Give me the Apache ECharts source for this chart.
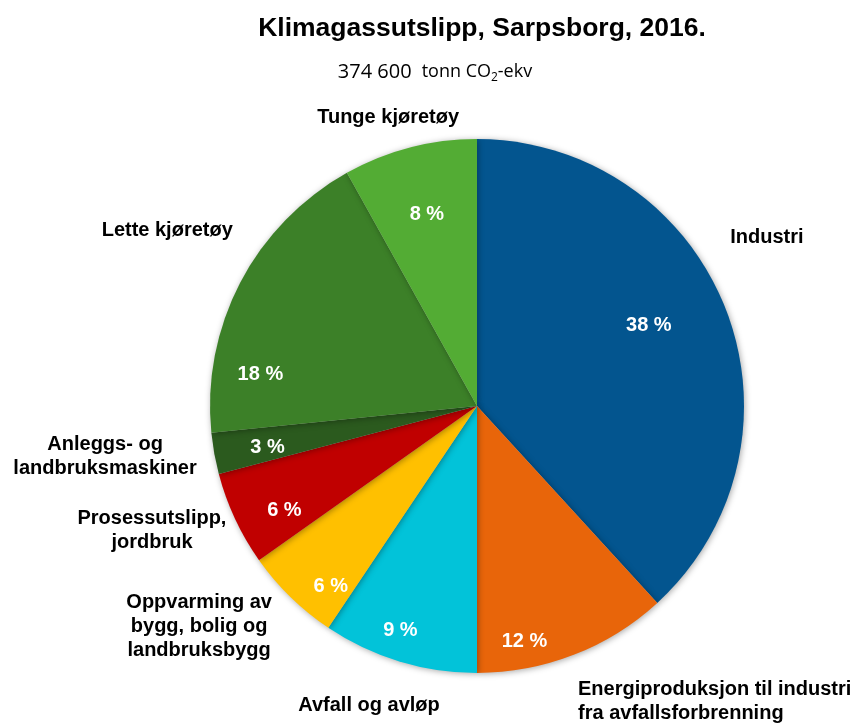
<!DOCTYPE html>
<html>
<head>
<meta charset="utf-8">
<script src="https://cdn.jsdelivr.net/npm/echarts@6/dist/echarts.min.js"></script>
<style>
  html, body { margin: 0; padding: 0; background: #fff; }
  #chart { width: 864px; height: 724px; }
</style>
</head>
<body>
<div id="chart"></div>
<script>
// sektorer, med klokka fra toppen
const categories = [
  'Industri',
  'Energiproduksjon til industri\nfra avfallsforbrenning',
  'Avfall og avløp',
  'Oppvarming av\nbygg, bolig og\nlandbruksbygg',
  'Prosessutslipp,\njordbruk',
  'Anleggs- og\nlandbruksmaskiner',
  'Lette kjøretøy',
  'Tunge kjøretøy'
]
const shares = [38.2, 11.8, 9.4, 5.8, 5.7, 2.5, 18.5, 8.1] // prosent
const shareLabels = ['38 %', '12 %', '9 %', '6 %', '6 %', '3 %', '18 %', '8 %']
const colors = ['#03558f', '#e8650a', '#02c3d9', '#ffc000', '#c00000', '#2b5a1e', '#3c8028', '#53ac34']

// etikettplassering: [vinkel fra toppen (grader), andel av radius]
const innerPos = [[65, 0.71], [168.6, 0.9], [198.8, 0.89], [219, 0.87], [241.6, 0.82], [258.7, 0.8], [278.4, 0.82], [345.3, 0.74]]
const outerPos = [[59.9, 1.255], [161.1, 1.168], [199.8, 1.194], [231.6, 1.328], [249, 1.304], [262.2, 1.406], [299.5, 1.333], [342.9, 1.132]]
const outerAlign = ['center', 'left', 'center', 'center', 'center', 'center', 'center', 'center']

const cx = 477, cy = 406, r = 267
const font = '"Liberation Sans", Arial, sans-serif'
const subFont = '"Open Sans", sans-serif'

function polar (p) {
  let a = p[0] * Math.PI / 180
  return { x: cx + p[1] * r * Math.sin(a), y: cy - p[1] * r * Math.cos(a) }
}

let data = categories.map((name, i) => ({
  name: name,
  value: shares[i],
  itemStyle: { color: colors[i] }
}))

let chart = echarts.init(document.getElementById('chart'))
chart.setOption({
  animation: false,
  title: [{
    text: 'Klimagassutslipp, Sarpsborg, 2016.',
    left: 477, top: 10, textAlign: 'center',
    textStyle: { fontFamily: font, fontWeight: 'bold', fontSize: 26.5, color: '#000' }
  }, {
    text: '{a|374 600}  {b|tonn CO}{s|2}{b|-ekv}',
    left: 430, top: 55, textAlign: 'center',
    textStyle: {
      fontWeight: 'normal',
      rich: {
        a: { fontFamily: subFont, fontWeight: 'normal', fontSize: 20, color: '#000' },
        b: { fontFamily: subFont, fontWeight: 'normal', fontSize: 18, color: '#000' },
        s: { fontFamily: subFont, fontWeight: 'normal', fontSize: 12, color: '#000', padding: [12, 0, 0, 0] }
      }
    }
  }],
  series: [{
    type: 'pie',
    center: [cx, cy],
    radius: r,
    startAngle: 90,
    clockwise: true,
    silent: true,
    data: data,
    itemStyle: { shadowBlur: 6, shadowColor: 'rgba(0,0,0,0.35)', shadowOffsetX: 1, shadowOffsetY: 1 },
    label: {
      show: true,
      position: 'inside',
      formatter: p => shareLabels[p.dataIndex],
      fontFamily: font, fontWeight: 'bold', fontSize: 20, color: '#fff'
    },
    labelLine: { show: false },
    labelLayout: p => {
      let pt = polar(innerPos[p.dataIndex])
      return { x: pt.x, y: pt.y, align: 'center', verticalAlign: 'middle' }
    }
  }, {
    // bare navneetiketter
    type: 'pie',
    center: [cx, cy],
    radius: r,
    startAngle: 90,
    silent: true,
    data: data.map(d => ({ name: d.name, value: d.value, itemStyle: { color: 'rgba(0,0,0,0)' } })),
    label: {
      show: true,
      position: 'outside',
      formatter: '{b}',
      overflow: 'none',
      width: 400,
      fontFamily: font, fontWeight: 'bold', fontSize: 20, color: '#000', lineHeight: 24
    },
    labelLine: { show: false },
    labelLayout: p => {
      let pt = polar(outerPos[p.dataIndex])
      return { x: pt.x, y: pt.y, align: outerAlign[p.dataIndex], verticalAlign: 'middle' }
    }
  }]
})
</script>
</body>
</html>
